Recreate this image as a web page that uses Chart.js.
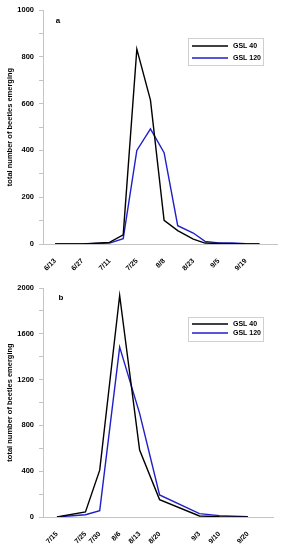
<!DOCTYPE html>
<html>
<head>
<meta charset="utf-8">
<script src="https://cdn.jsdelivr.net/npm/chart.js@4/dist/chart.umd.min.js"></script>
<style>
  html, body { margin: 0; padding: 0; background: #fff; }
  .wrap { position: absolute; left: 0; width: 282px; height: 275px; }
  #wrapA { top: 0; }
  #wrapB { top: 275px; }
</style>
</head>
<body>
<div class="wrap" id="wrapA"><canvas id="chartA"></canvas></div>
<div class="wrap" id="wrapB"><canvas id="chartB"></canvas></div>
<script>
// ========================== DATA ==========================
// panel a: days counted from 6/13
const daysA = [0, 7, 14, 21, 28, 35, 42, 49, 56, 63, 71, 77, 84, 91, 98, 105];
const gsl40A = [0, 0, 0, 3, 7, 39, 833, 615, 101, 57, 21, 4, 2, 1, 0, 0];
const gsl120A = [0, 0, 0, 2, 4, 23, 400, 492, 390, 78, 47, 11, 5, 4, 1, 0];
const tickDaysA = [0, 14, 28, 42, 56, 71, 84, 98];
const tickLabelsA = ["6/13", "6/27", "7/11", "7/25", "8/8", "8/23", "9/5", "9/19"];

// panel b: days counted from 7/15
const daysB = [0, 10, 15, 22, 29, 36, 50, 57, 67];
const gsl40B = [0, 44, 409, 1935, 584, 152, 9, 3, 0];
const gsl120B = [0, 20, 55, 1484, 905, 193, 29, 12, 3];
const tickDaysB = [0, 10, 15, 22, 29, 36, 50, 57, 67];
const tickLabelsB = ["7/15", "7/25", "7/30", "8/6", "8/13", "8/20", "9/3", "9/10", "9/20"];

const seriesNames = ["GSL 40", "GSL 120"];
const seriesColors = ["#000000", "#1f1fc8"];

// ========================== HELPERS ==========================
const FONT = "'Liberation Sans', Arial, sans-serif";
const AXIS_GRAY = "#c4c4c4";

function toPoints(xs, ys) {
  return xs.map((x, i) => ({ x, y: ys[i] }));
}

// legend box + panel letter drawn on canvas
function panelDecor(letter, letterPos, box) {
  return {
    id: "panelDecor" + letter,
    afterDraw(chart) {
      const ctx = chart.ctx;
      ctx.save();
      ctx.font = "bold 8px " + FONT;
      ctx.fillStyle = "#000";
      ctx.textAlign = "center";
      ctx.textBaseline = "middle";
      ctx.fillText(letter, letterPos[0], letterPos[1]);

      ctx.strokeStyle = "#d0d0d0";
      ctx.lineWidth = 1;
      ctx.strokeRect(box.x + 0.5, box.y + 0.5, box.w, box.h);

      ctx.font = "bold 7px " + FONT;
      ctx.textAlign = "left";
      chart.data.datasets.forEach((ds, i) => {
        const y = box.y + box.row0 + i * box.rowGap;
        ctx.strokeStyle = ds.borderColor;
        ctx.lineWidth = 1.4;
        ctx.beginPath();
        ctx.moveTo(box.x + 4, y);
        ctx.lineTo(box.x + 40, y);
        ctx.stroke();
        ctx.fillStyle = "#000";
        ctx.fillText(ds.label, box.x + 45, y + 0.5);
      });
      ctx.restore();
    }
  };
}

function makeChart(id, cfg) {
  return new Chart(document.getElementById(id), {
    type: "line",
    data: {
      datasets: [
        {
          label: seriesNames[0],
          data: toPoints(cfg.days, cfg.s1),
          borderColor: seriesColors[0],
          borderWidth: 1.4,
          pointRadius: 0,
          tension: 0
        },
        {
          label: seriesNames[1],
          data: toPoints(cfg.days, cfg.s2),
          borderColor: seriesColors[1],
          borderWidth: 1.4,
          pointRadius: 0,
          tension: 0
        }
      ]
    },
    options: {
      responsive: false,
      animation: false,
      layout: { padding: cfg.padding },
      plugins: { legend: { display: false }, tooltip: { enabled: false } },
      scales: {
        x: {
          type: "linear",
          min: cfg.xMin,
          max: cfg.xMax,
          afterBuildTicks: s => { s.ticks = cfg.tickDays.map(v => ({ value: v })); },
          afterFit: s => { s.height = cfg.xHeight; },
          grid: { display: false },
          border: { display: true, color: AXIS_GRAY, width: 1 },
          ticks: {
            autoSkip: false,
            minRotation: 45,
            maxRotation: 45,
            padding: 5,
            color: "#000",
            font: { family: FONT, size: 7, weight: "bold" },
            callback: v => {
              const i = cfg.tickDays.indexOf(v);
              return i >= 0 ? cfg.tickLabels[i] : "";
            }
          }
        },
        y: {
          min: 0,
          max: cfg.yMax,
          afterFit: s => { s.width = 43; },
          grid: {
            display: true,
            drawOnChartArea: false,
            drawTicks: true,
            tickLength: 4,
            tickColor: AXIS_GRAY
          },
          border: { display: true, color: AXIS_GRAY, width: 1 },
          ticks: {
            stepSize: cfg.yStep / 2,
            padding: 5,
            color: "#000",
            font: { family: FONT, size: 7.5, weight: "bold" },
            callback: v => (v % cfg.yStep === 0 ? v : "")
          },
          title: {
            display: true,
            text: "total number of beetles emerging",
            color: "#000",
            font: { family: FONT, size: 7.5, weight: "bold" },
            padding: { top: 5, bottom: 2 }
          }
        }
      }
    },
    plugins: [panelDecor(cfg.letter, cfg.letterPos, cfg.box)]
  });
}

// ========================== CHARTS ==========================
const cA = document.getElementById("chartA");
cA.width = 282; cA.height = 275;
const cB = document.getElementById("chartB");
cB.width = 282; cB.height = 275;

makeChart("chartA", {
  days: daysA, s1: gsl40A, s2: gsl120A,
  tickDays: tickDaysA, tickLabels: tickLabelsA,
  xMin: -6.2, xMax: 114,
  yMax: 1000, yStep: 200,
  xHeight: 31,
  padding: { top: 10, right: 5, left: 0, bottom: 0 },
  letter: "a", letterPos: [58, 21],
  box: { x: 188, y: 38, w: 75, h: 27, row0: 8, rowGap: 12 }
});

makeChart("chartB", {
  days: daysB, s1: gsl40B, s2: gsl120B,
  tickDays: tickDaysB, tickLabels: tickLabelsB,
  xMin: -4.9, xMax: 75.8,
  yMax: 2000, yStep: 400,
  xHeight: 33,
  padding: { top: 13, right: 9, left: 0, bottom: 0 },
  letter: "b", letterPos: [61, 23],
  box: { x: 188, y: 42, w: 75, h: 24, row0: 7, rowGap: 9 }
});
</script>
</body>
</html>
